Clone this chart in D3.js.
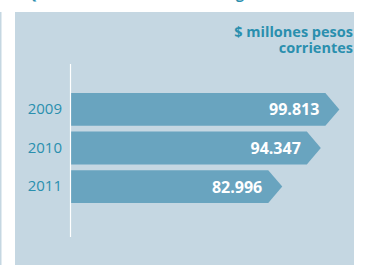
<!DOCTYPE html>
<html><head><meta charset="utf-8">
<script src="https://cdn.jsdelivr.net/npm/d3@7"></script>
<style>html,body{margin:0;padding:0;background:#fff;overflow:hidden}svg{display:block}</style>
</head><body>
<script>
const years = ["2009", "2010", "2011"];
const values = [99.813, 94.347, 82.996];
const valueLabels = ["99.813", "94.347", "82.996"];
const unitLines = ["$ millones pesos", "corrientes"];

const W = 370, H = 265;
const svg = d3.select("body").append("svg").attr("width", W).attr("height", H);

const teal = "#2a8fae";
const panelFill = "#c5d7e2";
const barFill = "#69a4bf";

// cut-off title fragments at top
svg.append("rect").attr("x", 0).attr("y", 12).attr("width", 1.5).attr("height", H - 12).attr("fill", panelFill);
svg.append("text").attr("x", 17).attr("y", -1).attr("fill", teal)
  .style("font", "bold 14px 'Open Sans'").text("• Q");
svg.append("text").attr("x", 236).attr("y", -1).attr("fill", teal)
  .style("font", "bold 14px 'Open Sans'").text("g");

// panel
svg.append("rect").attr("x", 15).attr("y", 12).attr("width", 339).attr("height", H - 12).attr("fill", panelFill);

// unit header
svg.append("text").attr("text-anchor", "end").attr("fill", teal)
  .style("font", "bold 14.5px 'Open Sans'")
  .selectAll("tspan").data(unitLines).join("tspan")
  .attr("x", 353).attr("y", (d, i) => 37 + i * 16).text(d => d);

const x = d3.scaleLinear().domain([20.5, 100]).range([70, 340]);
const y = d3.scaleBand().domain(years).range([93, 203]).paddingInner(0.15).paddingOuter(0);
const tip = 14;

const g = svg.append("g");
g.selectAll("path.bar").data(years).join("path").attr("class", "bar")
  .attr("fill", barFill)
  .attr("d", (d, i) => {
    const x0 = x(x.domain()[0]) + 1, x1 = x(values[i]), yt = y(d), h = y.bandwidth();
    return `M${x0},${yt}H${x1 - tip}L${x1},${yt + h / 2}L${x1 - tip},${yt + h}H${x0}Z`;
  });

g.selectAll("text.val").data(years).join("text").attr("class", "val")
  .attr("x", (d, i) => x(values[i]) - tip - 6)
  .attr("y", d => y(d) + y.bandwidth() / 2 + 6)
  .attr("text-anchor", "end").attr("fill", "#fff")
  .style("font", "bold 16px 'Open Sans'")
  .text((d, i) => valueLabels[i]);

// axis
const axis = d3.axisLeft(y).tickSize(0).tickPadding(8);
const ax = svg.append("g").attr("transform", "translate(70,0)").call(axis);
ax.select(".domain").remove();
ax.selectAll("text").attr("fill", teal).style("font", "15px 'Open Sans'").attr("x", -8);
svg.append("line").attr("x1", 70.5).attr("x2", 70.5).attr("y1", 64).attr("y2", 237)
  .attr("stroke", "#fff").attr("stroke-width", 1.2);
</script>
</body></html>
